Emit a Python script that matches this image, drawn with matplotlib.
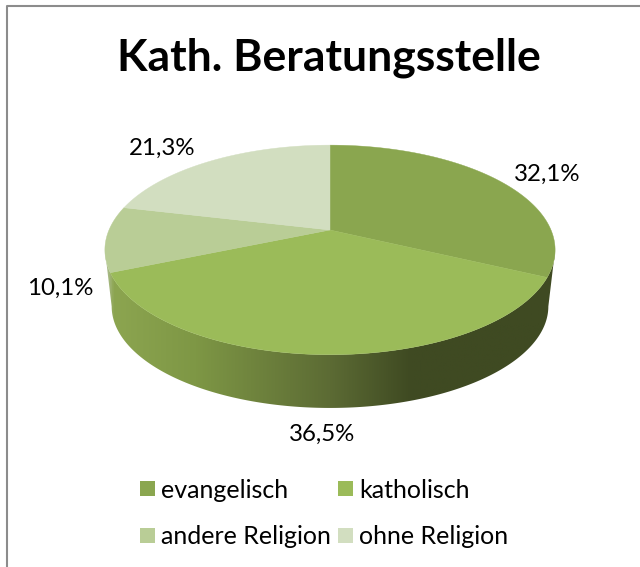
import numpy as np
import matplotlib
matplotlib.use("Agg")
import matplotlib.pyplot as plt
from matplotlib.colors import LinearSegmentedColormap
from matplotlib.patches import Polygon, Rectangle

plt.rcParams['font.family'] = ['Lato', 'DejaVu Sans']

TITLE = "Kath. Beratungsstelle"
categories = ["evangelisch", "katholisch", "andere Religion", "ohne Religion"]
values = [32.1, 36.5, 10.1, 21.3]
colors = ["#8aa64f", "#9bbb59", "#b9cd96", "#d2dec0"]


def project(theta, scale=1.0, dy=0.0):
    # circle -> perspective view, theta runs clockwise from the top
    u, v = np.sin(theta), np.cos(theta)
    d = 1 + 0.19 * v
    return 330 + scale * 221 * u / d, 230 + dy - scale * 101 * v / d


fig = plt.figure(figsize=(6.4, 5.67), dpi=100)
ax = fig.add_axes([0, 0, 1, 1])
ax.set_xlim(0, 640)
ax.set_ylim(567, 0)
ax.axis("off")

# chart frame, only left and top are in view
ax.plot([6.5, 6.5, 640], [567, 5.5, 5.5], color="#8c8c8c", lw=1.5)

# side wall with a horizontal gradient, from the widest point on each side
front = np.radians(np.linspace(101, 259, 200))
tx, ty = project(front)
bx, by = project(front, 0.97, 57)
wall = Polygon(np.r_[np.c_[tx, ty], np.c_[bx, by][::-1]], closed=True, fc="none", ec="none")
ax.add_patch(wall)
wall_cmap = LinearSegmentedColormap.from_list(
    "wall", [(0, "#b4c29c"), (0.018, "#8ca550"), (0.2, "#7e9745"), (0.5, "#5c6b34"),
             (0.68, "#3f4a22"), (1, "#3f4a22")])
grad = ax.imshow(np.linspace(0, 1, 256)[None, :], extent=(105, 555, 420, 230),
                 cmap=wall_cmap, aspect="auto", zorder=2)
grad.set_clip_path(wall)
ax.set_xlim(0, 640)
ax.set_ylim(567, 0)

# top face
start = 0.0
for val, col in zip(values, colors):
    end = start + val / sum(values) * 2 * np.pi
    rim = np.linspace(start, end, 120)
    x, y = project(rim)
    ax.add_patch(Polygon(np.r_[[[330, 230]], np.c_[x, y]], closed=True, fc=col, ec=col, lw=0.3, zorder=3))
    start = end

# value labels
label_x = [547, 322, 60, 162]
label_y = [174, 434, 288, 148]
for val, lx, ly in zip(values, label_x, label_y):
    ax.text(lx, ly, f"{val:.1f}%".replace(".", ","), fontsize=17.3, color="black",
            ha="center", va="center", zorder=5)

ax.text(329, 58, TITLE, fontsize=32, fontweight="bold", color="black", ha="center", va="center")

# legend
legend_x = [140, 338, 140, 338]
legend_y = [488, 488, 535, 535]
for name, col, lx, ly in zip(categories, colors, legend_x, legend_y):
    ax.add_patch(Rectangle((lx, ly - 7.5), 15, 15, fc=col, ec="none"))
    ax.text(lx + 21, ly, name, fontsize=18, color="black", ha="left", va="center_baseline")

fig.savefig("out.png", dpi=100)
